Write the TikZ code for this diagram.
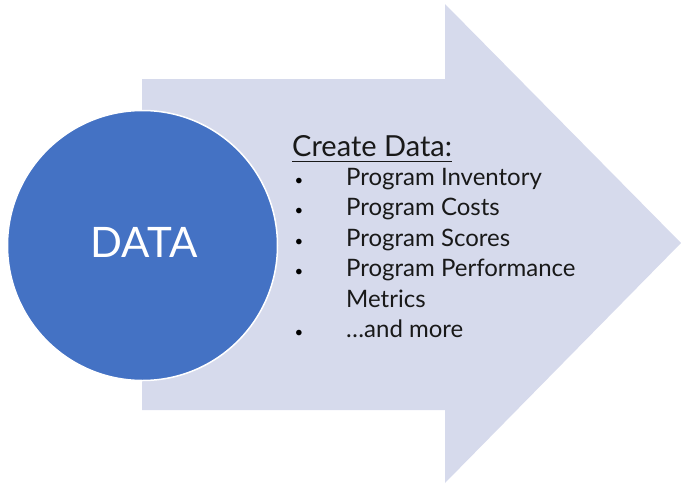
\documentclass[tikz,border=0pt]{standalone}
\usepackage{fontspec}
\setmainfont{Lato}
\usepackage{xcolor}
\usetikzlibrary{positioning}

\definecolor{arrowbg}{RGB}{214,218,236}
\definecolor{datablue}{RGB}{68,114,196}

\begin{document}
\begin{tikzpicture}[x=1pt,y=-1pt,
    item/.style={anchor=base west, inner sep=0pt, text=black!90, font=\fontsize{24}{28}\selectfont},
    dot/.style={anchor=base, inner sep=0pt, font=\fontsize{15}{20}\selectfont}]
    \useasboundingbox (0,0) rectangle (681,485);
    \pgfmathsetmacro{\bodyl}{142}
    \pgfmathsetmacro{\notch}{445}
    \fill [arrowbg]
    (\bodyl,79) coordinate (a) -- (\notch,79) coordinate (b) -- (\notch,4) coordinate (c)
    -- (681,243) coordinate (tip) -- (\notch,483) coordinate (d) -- (\notch,410) coordinate (e)
    -- (\bodyl,410) coordinate (f) -- cycle;
    \node [circle, fill=datablue, draw=white, line width=1.5pt, minimum size=270pt, inner sep=0pt] (data) at (142.5,245.5) {};
    \node [text=white, font=\fontsize{42}{46}\selectfont, anchor=base] (datalbl) at (144,257.5) {DATA};
    % heading
    \node [item, font=\fontsize{29}{32}\selectfont] (head) at (292,156) {Create Data:};
    \draw [line width=1.6pt, black!90] ([yshift=-5.5pt]head.base west) -- ([yshift=-5.5pt]head.base east);
    % bullet list
    \foreach \y/\txt/\nm in {185/Program Inventory/inv, 215/Program Costs/cost, 246/Program Scores/score, 276/Program Performance/perf, 337/\dots and more/more}
        {\node [dot] (b\nm) at (299,\y) {\textbullet};
         \node [item] (\nm) at (346,\y) {\txt};}
    \node [item] (metr) at (346,307) {Metrics};
\end{tikzpicture}
\end{document}
